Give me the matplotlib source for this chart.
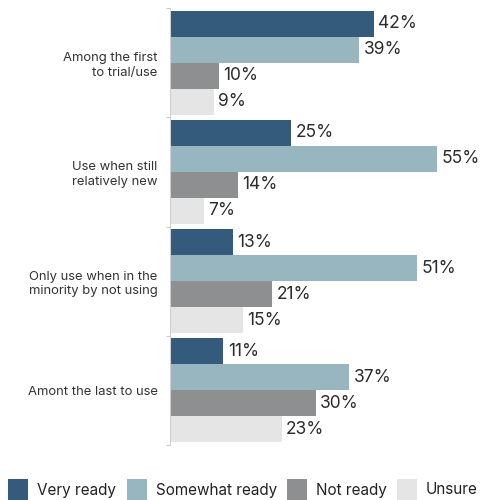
import matplotlib
matplotlib.use("Agg")
import matplotlib.pyplot as plt
from matplotlib.patches import Rectangle
import numpy as np

plt.rcParams["font.family"] = ["Inter", "DejaVu Sans"]

categories = ["Among the first\nto trial/use", "Use when still\nrelatively new",
              "Only use when in the\nminority by not using", "Amont the last to use"]
series_names = ["Very ready", "Somewhat ready", "Not ready", "Unsure"]
very_ready = [42, 25, 13, 11]
somewhat_ready = [39, 55, 51, 37]
not_ready = [10, 14, 21, 30]
unsure = [9, 7, 15, 23]
colors = ["#345b7c", "#97b6c0", "#8e8f91", "#e5e5e5"]

series = [very_ready, somewhat_ready, not_ready, unsure]

fig = plt.figure(figsize=(4.83, 5.0), dpi=100)
ax = fig.add_axes([170 / 483, 1 - 445 / 500, 291 / 483, 437 / 500])

bar_h = 0.238
pad = (1 - 4 * bar_h) / 2
for si, (vals, col) in enumerate(zip(series, colors)):
    for ci, v in enumerate(vals):
        y = ci + pad + si * bar_h + bar_h / 2
        ax.barh(y, v, height=bar_h, color=col, linewidth=0)
        ax.annotate(f"{v}%", (v, y), xytext=(3.2, 0), textcoords="offset points",
                    va="center", ha="left", fontsize=12.5, color="#2b2b2b",
                    annotation_clip=False)

ax.set_xlim(0, 60)
ax.set_ylim(4, 0)
ax.set_yticks([0.5, 1.5, 2.5, 3.5])
ax.set_yticklabels(categories, fontsize=9.4, color="#333333", linespacing=1.3)
ax.set_yticks([0, 1, 2, 3, 4], minor=True)
ax.tick_params(axis="y", which="major", length=0, pad=9)
ax.tick_params(axis="y", which="minor", length=3, color="#cccccc", width=0.8)
ax.set_xticks([])
for s in ["top", "right", "bottom"]:
    ax.spines[s].set_visible(False)
ax.spines["left"].set_color("#d0d0d0")
ax.spines["left"].set_linewidth(0.8)

# legend drawn along the bottom edge
sq_x = [8, 127, 287, 397]
for name, col, x in zip(series_names, colors, sq_x):
    fig.patches.append(Rectangle((x / 483, 0), 20 / 483, 21 / 500,
                                 transform=fig.transFigure, color=col, linewidth=0))
    fig.text((x + 29) / 483, 1 - 490 / 500, name, fontsize=11, color="#222222",
             va="center", ha="left")

fig.savefig("out.png", dpi=100, facecolor="white")
